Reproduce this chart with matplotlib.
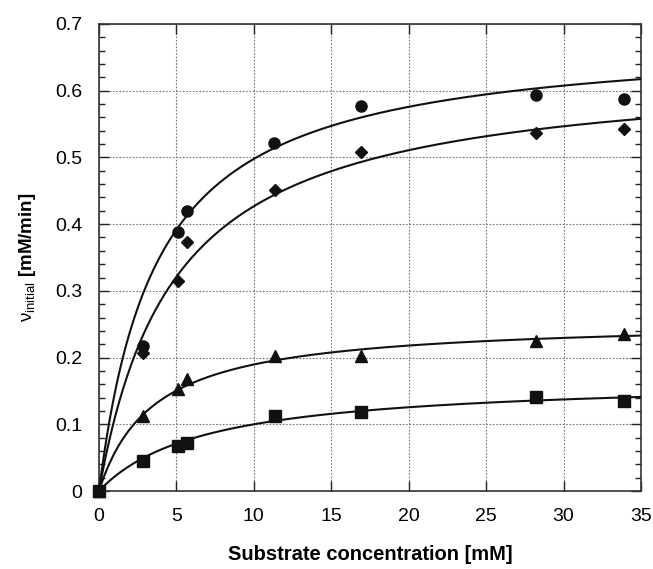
import matplotlib
matplotlib.use("Agg")
import matplotlib.pyplot as plt
import numpy as np

plt.rcParams['font.family'] = ['Liberation Sans', 'DejaVu Sans']
plt.rcParams['mathtext.fontset'] = 'custom'
plt.rcParams['mathtext.rm'] = 'Liberation Sans'
plt.rcParams['mathtext.it'] = 'Liberation Sans:italic'
plt.rcParams['mathtext.bf'] = 'Liberation Sans:bold'

# Measured data (substrate concentration [mM], initial rate [mM/min])
x_circle = [0, 2.84, 5.08, 5.66, 11.3, 16.95, 28.2, 33.9]
y_circle = [0, 0.218, 0.388, 0.419, 0.521, 0.577, 0.594, 0.588]

x_diamond = [0, 2.84, 5.08, 5.7, 11.36, 16.95, 28.2, 33.9]
y_diamond = [0, 0.207, 0.315, 0.373, 0.451, 0.508, 0.536, 0.543]

x_triangle = [0, 2.84, 5.12, 5.7, 11.36, 16.95, 28.2, 33.9]
y_triangle = [0, 0.112, 0.153, 0.168, 0.202, 0.203, 0.225, 0.236]

x_square = [0, 2.84, 5.12, 5.7, 11.36, 16.95, 28.2, 33.9]
y_square = [0, 0.0445, 0.0675, 0.072, 0.112, 0.119, 0.141, 0.135]

# Michaelis-Menten fit parameters (Vmax [mM/min], Km [mM])
vmax_fits = [0.683, 0.636, 0.2564, 0.1687]
km_fits = [3.72, 4.90, 3.52, 6.87]

fig = plt.figure(figsize=(6.53, 5.69), dpi=100)
ax = fig.add_axes([99/653, 1 - 491/569, (641 - 99)/653, (491 - 24)/569])

s = np.linspace(0, 35, 400)
for vm, km in zip(vmax_fits, km_fits):
    ax.plot(s, vm * s / (km + s), color='#111111', lw=1.5, zorder=3)

ax.plot(x_circle, y_circle, 'o', color='#111111', ms=8, zorder=4, clip_on=False)
ax.plot(x_diamond, y_diamond, 'D', color='#111111', ms=6.5, zorder=4, clip_on=False)
ax.plot(x_triangle, y_triangle, '^', color='#111111', ms=9, zorder=4, clip_on=False)
ax.plot(x_square, y_square, 's', color='#111111', ms=8, zorder=5, clip_on=False)

ax.set_xlim(0, 35)
ax.set_ylim(0, 0.7)
ax.set_xticks(np.arange(0, 36, 5))
ax.set_yticks(np.arange(0, 0.71, 0.1))
ax.set_yticks(np.arange(0, 0.701, 0.02), minor=True)
ax.set_yticklabels(['0', '0.1', '0.2', '0.3', '0.4', '0.5', '0.6', '0.7'])
ax.set_xticklabels([str(v) for v in range(0, 36, 5)])

ax.tick_params(axis='both', which='both', direction='in', top=True, right=True,
               labelsize=14, color='#222222')
ax.tick_params(axis='both', which='major', length=7, width=1)
ax.tick_params(axis='y', which='minor', length=4, width=1)
ax.tick_params(axis='x', which='major', pad=12)
ax.tick_params(axis='y', which='major', pad=12)

ax.grid(True, which='major', linestyle=(0, (1.5, 1.5)), color='#777777', lw=0.8)
ax.set_axisbelow(True)
for sp in ax.spines.values():
    sp.set_linewidth(1.2)
    sp.set_color('#333333')

ax.set_xlabel('Substrate concentration [mM]', fontsize=14.5, fontweight='bold', labelpad=15)
ax.set_ylabel(r'$\mathrm{ν}_{\mathrm{initial}}$ $\mathbf{[mM/min]}$', fontsize=13.5, labelpad=12)

fig.savefig('out.png', dpi=100)
